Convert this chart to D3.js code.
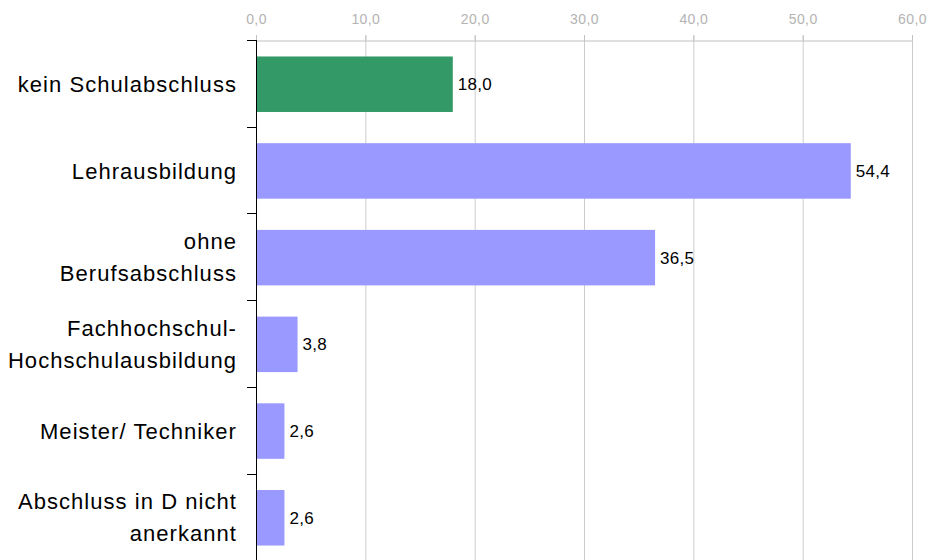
<!DOCTYPE html>
<html><head><meta charset="utf-8">
<script src="https://cdn.jsdelivr.net/npm/d3@7"></script>
<style>body{margin:0;background:#fff}svg{display:block;font-family:"Liberation Sans",Arial,sans-serif}</style>
</head><body><svg id="c" width="931" height="560"></svg>
<script>
const categories = [["kein Schulabschluss"],["Lehrausbildung"],["ohne","Berufsabschluss"],["Fachhochschul-","Hochschulausbildung"],["Meister/ Techniker"],["Abschluss in D nicht","anerkannt"]];
const values = [18.0, 54.4, 36.5, 3.8, 2.6, 2.6];
const barColors = ["#339966","#9999FF","#9999FF","#9999FF","#9999FF","#9999FF"];
const xTicks = [0,10,20,30,40,50,60];

(function(){
const svg = d3.select("#c");
const mLeft = 256, mRight = 912, mTop = 40, mBottom = 562;
const x = d3.scaleLinear().domain([0,60]).range([mLeft,mRight]);
const y = d3.scaleBand().domain(d3.range(categories.length)).range([mTop,mBottom]).paddingInner(0.36).paddingOuter(0.19);
const fmt = v => d3.format(".1f")(v).replace(".", ",");

svg.append("g").selectAll("line").data(xTicks).join("line")
  .attr("x1", d=>x(d)+0.5).attr("x2", d=>x(d)+0.5).attr("y1", mTop-5).attr("y2", 560)
  .attr("stroke", "#cccccc").attr("stroke-width", 1);
const ax = svg.append("g").attr("transform", `translate(0,${mTop+0.5})`)
  .call(d3.axisTop(x).tickValues(xTicks).tickFormat(fmt).tickSize(5).tickSizeOuter(0));
ax.select(".domain").attr("stroke", "#c0c0c0");
ax.selectAll(".tick line").attr("stroke", "#c0c0c0");
ax.selectAll(".tick text").attr("fill", "#b3b3b3").attr("font-size", 14).attr("y", -17)
  .attr("letter-spacing", 0.4)
  .attr("font-family", '"Liberation Sans",Arial,sans-serif');

svg.append("g").selectAll("rect").data(values).join("rect")
  .attr("x", x(0)).attr("y", (d,i)=>y(i)).attr("width", d=>x(d)-x(0)).attr("height", y.bandwidth())
  .attr("fill", (d,i)=>barColors[i]);
svg.append("g").selectAll("text").data(values).join("text")
  .attr("x", d=>x(d)+5).attr("y", (d,i)=>y(i)+y.bandwidth()/2).attr("dy","0.35em")
  .attr("font-size", 17).attr("letter-spacing", 0.3).attr("fill","#000").text(d=>fmt(d));

const step = y.step();
const boundaries = d3.range(categories.length).map(i => mTop + i*step);
svg.append("line").attr("x1", mLeft+0.5).attr("x2", mLeft+0.5).attr("y1", mTop).attr("y2", 560).attr("stroke","#000");
svg.append("g").selectAll("line").data(boundaries).join("line")
  .attr("x1", mLeft-9).attr("x2", mLeft).attr("y1", d=>Math.round(d)+0.5).attr("y2", d=>Math.round(d)+0.5).attr("stroke","#000");

const lab = svg.append("g").selectAll("text").data(categories).join("text")
  .attr("text-anchor","end").attr("font-size", 22).attr("letter-spacing", 1.05).attr("fill","#000")
  .attr("x", 237).attr("y", (d,i)=>y(i)+y.bandwidth()/2);
lab.each(function(d){
  const t = d3.select(this);
  const lh = 32;
  const off = -(d.length-1)*lh/2;
  const cy = +t.attr("y");
  d.forEach((s,j)=>t.append("tspan").attr("x",237).attr("y", cy + off + j*lh).attr("dy","0.35em").text(s));
});
})();
</script></body></html>
